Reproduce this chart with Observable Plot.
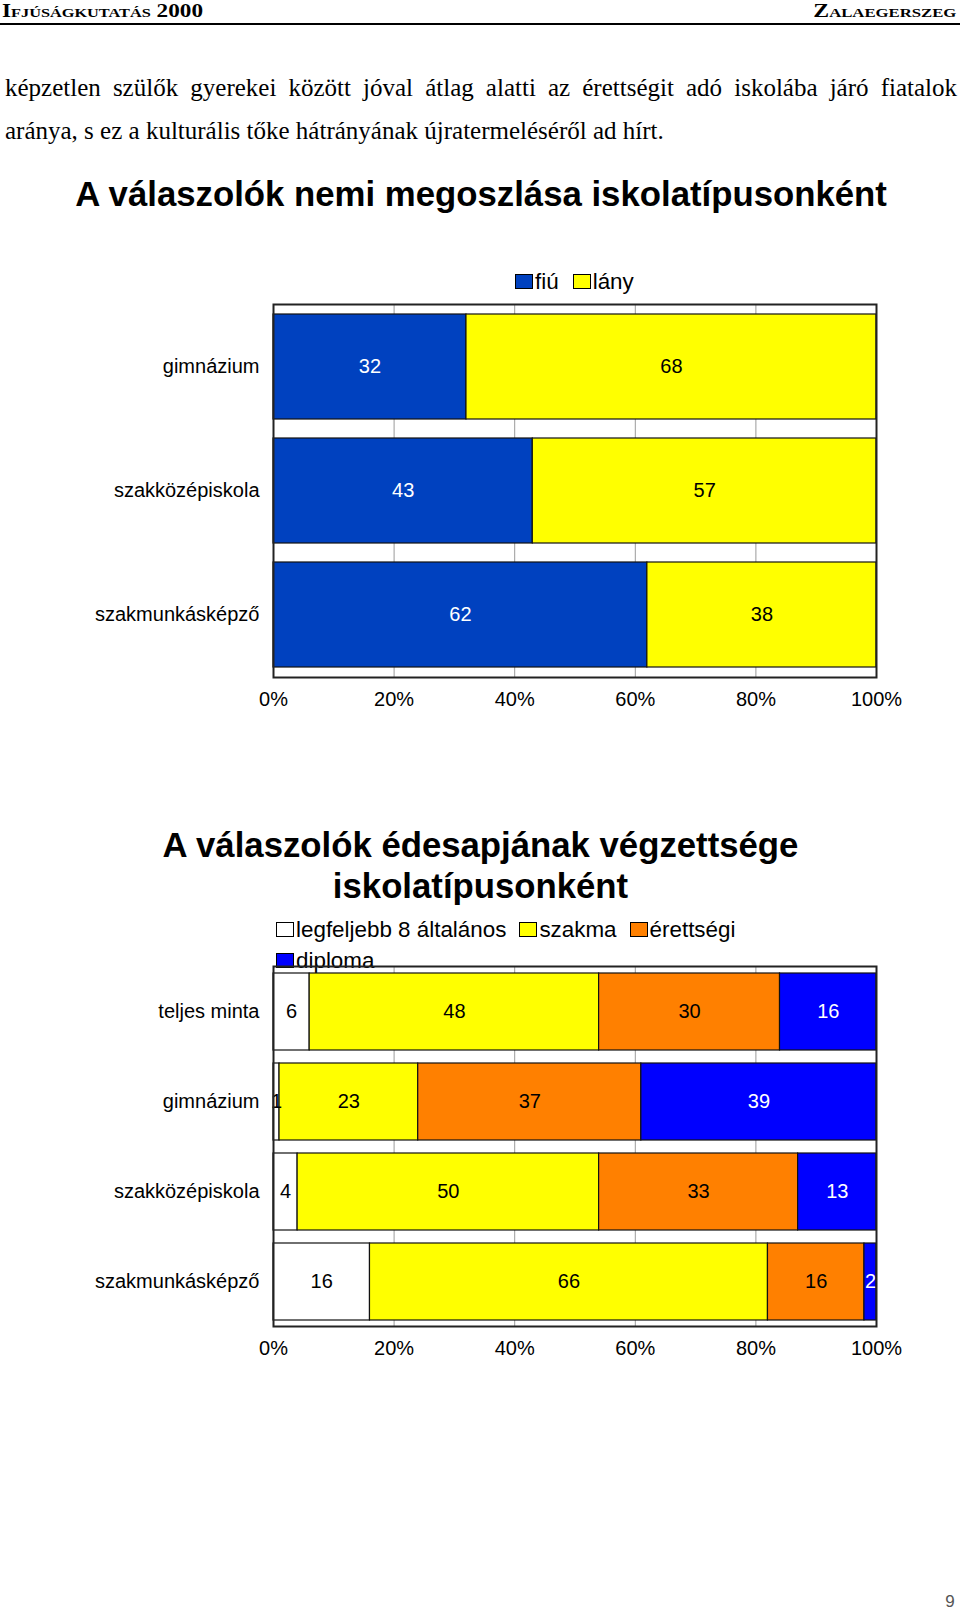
<!DOCTYPE html>
<html>
<head>
<meta charset="utf-8">
<script src="https://cdn.jsdelivr.net/npm/d3@7"></script>
<script src="https://cdn.jsdelivr.net/npm/@observablehq/plot@0.6"></script>
<style>
  html, body { margin: 0; padding: 0; background: #fff; }
  #page { position: relative; width: 960px; height: 1613px; overflow: hidden; background: #fff; }
  .abs { position: absolute; white-space: nowrap; line-height: 1.15; }
  .serif { font-family: "Liberation Serif", "Times New Roman", serif; color: #000; }
  .sans { font-family: "Liberation Sans", Arial, sans-serif; color: #000; }
  .title { font-weight: bold; }
  .legend { position: absolute; display: flex; flex-wrap: wrap; align-items: center; font-family: "Liberation Sans", Arial, sans-serif; font-size: 22.4px; }
  .legend .item { display: flex; align-items: center; margin-right: 13px; height: 31px; }
  .legend .sw { width: 16px; height: 13px; border: 1px solid #000; margin-right: 2px; box-sizing: content-box; }
  .chart { position: absolute; left: 0; }
  .chart svg { overflow: visible; }
</style>
</head>
<body>
<div id="page"></div>
<script>
// ---------- data ----------
const headerLeft = "Ifjúságkutatás 2000";
const headerRight = "Zalaegerszeg";
const paragraphLines = [
  "képzetlen szülők gyerekei között jóval átlag alatti az érettségit adó iskolába járó fiatalok",
  "aránya, s ez a kulturális tőke hátrányának újratermeléséről ad hírt."
];
const title1 = "A válaszolók nemi megoszlása iskolatípusonként";
const title2Lines = ["A válaszolók édesapjának végzettsége", "iskolatípusonként"];
const pageNumber = "9";

const schools1 = ["gimnázium", "szakközépiskola", "szakmunkásképző"];
const genders = ["fiú", "lány"];
const fiuValues = [32, 43, 62];
const lanyValues = [68, 57, 38];

const groups2 = ["teljes minta", "gimnázium", "szakközépiskola", "szakmunkásképző"];
const educLevels = ["legfeljebb 8 általános", "szakma", "érettségi", "diploma"];
const alapValues = [6, 1, 4, 16];
const szakmaValues = [48, 23, 50, 66];
const erettsegiValues = [30, 37, 33, 16];
const diplomaValues = [16, 39, 13, 2];

const xTicks = [0, 20, 40, 60, 80, 100];

// ---------- styles ----------
const genderColors = ["#0041BF", "#FFFF00"];
const genderText = ["#ffffff", "#000000"];
const educColors = ["#FFFFFF", "#FFFF00", "#FF8000", "#0000FF"];
const educText = ["#000000", "#000000", "#000000", "#ffffff"];

const page = document.getElementById("page");

function el(tag, cls, text, css) {
  const e = document.createElement(tag);
  if (cls) e.className = cls;
  if (text != null) e.textContent = text;
  Object.assign(e.style, css || {});
  page.appendChild(e);
  return e;
}
function fitFont(e, targetW) {
  const w = e.getBoundingClientRect().width;
  const fs = parseFloat(getComputedStyle(e).fontSize);
  e.style.fontSize = (fs * targetW / w) + "px";
  return fs * targetW / w;
}
function centerAt(e, cx, cy) {
  const r = e.getBoundingClientRect();
  if (cx != null) e.style.left = (cx - r.width / 2) + "px";
  if (cy != null) e.style.top = (cy - e.offsetHeight / 2) + "px";
}

// ---------- header ----------
const hl = el("div", "abs serif", headerLeft, {fontWeight: "bold", fontVariant: "small-caps", fontSize: "18.5px", left: "2px", transformOrigin: "left center"});
const hr = el("div", "abs serif", headerRight, {fontWeight: "bold", fontVariant: "small-caps", fontSize: "18.5px", transformOrigin: "right center"});
{
  const w1 = hl.getBoundingClientRect().width;
  hl.style.transform = `scaleX(${201 / w1})`;
  const w2 = hr.getBoundingClientRect().width;
  hr.style.left = (956 - w2) + "px";
  hr.style.transform = `scaleX(${143 / w2})`;
  centerAt(hl, null, 11.5);
  centerAt(hr, null, 11.5);
}
el("div", null, null, {position: "absolute", left: "0px", top: "23px", width: "960px", height: "2px", background: "#000"});

// ---------- paragraph ----------
const p2 = el("div", "abs serif", paragraphLines[1], {fontSize: "22px", left: "5px"});
const pfs = fitFont(p2, 659);
centerAt(p2, null, 131.5);
const p1 = el("div", "abs serif", paragraphLines[0], {fontSize: pfs + "px", left: "5px", width: "952px", textAlign: "justify", textAlignLast: "justify", whiteSpace: "normal"});
centerAt(p1, null, 88);

// ---------- chart helper ----------
function stackedChart(rows, cats, series, colors, textColors, height, plotH) {
  const textColorOf = d => textColors[series.indexOf(d.series)];
  return Plot.plot({
    width: 960,
    height: height,
    marginLeft: 273,
    marginRight: 84,
    marginTop: 10,
    marginBottom: height - 10 - plotH,
    style: {fontSize: "20px", fontFamily: "'Liberation Sans', Arial, sans-serif", background: "transparent", color: "#000", overflow: "visible"},
    x: {domain: [0, 100], ticks: xTicks, tickFormat: d => d + "%", label: null, tickSize: 0, tickPadding: 14},
    y: {domain: cats, paddingInner: 0.15, paddingOuter: 0.075, label: null, tickSize: 0, tickPadding: 14},
    color: {domain: series, range: colors},
    marks: [
      Plot.gridX(xTicks.slice(1, -1), {stroke: "#9a9a9a", strokeOpacity: 1, strokeWidth: 1}),
      Plot.barX(rows, Plot.stackX({x: "value", y: "cat", fill: "series", stroke: "#111", strokeWidth: 1.2})),
      Plot.text(rows, Plot.stackX({x: "value", y: "cat", text: d => String(d.value), fill: textColorOf, fontSize: 20})),
      Plot.frame({stroke: "#222", strokeWidth: 2})
    ]
  });
}

// ---------- chart 1 ----------
const t1 = el("div", "abs sans title", title1, {fontSize: "30px"});
fitFont(t1, 812);
centerAt(t1, 481, 195);

const leg1 = el("div", "legend", null, {left: "515px", top: "266px"});
genders.forEach((g, i) => {
  const it = document.createElement("div"); it.className = "item";
  it.style.marginRight = "14px";
  const sw = document.createElement("div"); sw.className = "sw"; sw.style.background = genderColors[i];
  const tx = document.createElement("span"); tx.textContent = g;
  it.appendChild(sw); it.appendChild(tx); leg1.appendChild(it);
});

const rows1 = [];
schools1.forEach((s, i) => {
  rows1.push({cat: s, series: genders[0], value: fiuValues[i]});
  rows1.push({cat: s, series: genders[1], value: lanyValues[i]});
});
const c1 = el("div", "chart", null, {top: "294px"});
c1.appendChild(stackedChart(rows1, schools1, genders, genderColors, genderText, 430, 373));

// ---------- chart 2 ----------
const t2a = el("div", "abs sans title", title2Lines[0], {fontSize: "30px"});
const t2fs = fitFont(t2a, 636);
centerAt(t2a, 480.5, 846);
const t2b = el("div", "abs sans title", title2Lines[1], {fontSize: t2fs + "px"});
centerAt(t2b, 480.5, 887);

const leg2 = el("div", "legend", null, {left: "276px", top: "914px", width: "480px"});
educLevels.forEach((g, i) => {
  const it = document.createElement("div"); it.className = "item";
  const sw = document.createElement("div"); sw.className = "sw"; sw.style.background = educColors[i];
  const tx = document.createElement("span"); tx.textContent = g;
  it.appendChild(sw); it.appendChild(tx); leg2.appendChild(it);
});

const rows2 = [];
groups2.forEach((g, i) => {
  rows2.push({cat: g, series: educLevels[0], value: alapValues[i]});
  rows2.push({cat: g, series: educLevels[1], value: szakmaValues[i]});
  rows2.push({cat: g, series: educLevels[2], value: erettsegiValues[i]});
  rows2.push({cat: g, series: educLevels[3], value: diplomaValues[i]});
});
const c2 = el("div", "chart", null, {top: "956px"});
c2.appendChild(stackedChart(rows2, groups2, educLevels, educColors, educText, 420, 360));

// ---------- page number ----------
const pn = el("div", "abs sans", pageNumber, {fontSize: "17px", color: "#555"});
centerAt(pn, 950, 1602);
</script>
</body>
</html>
